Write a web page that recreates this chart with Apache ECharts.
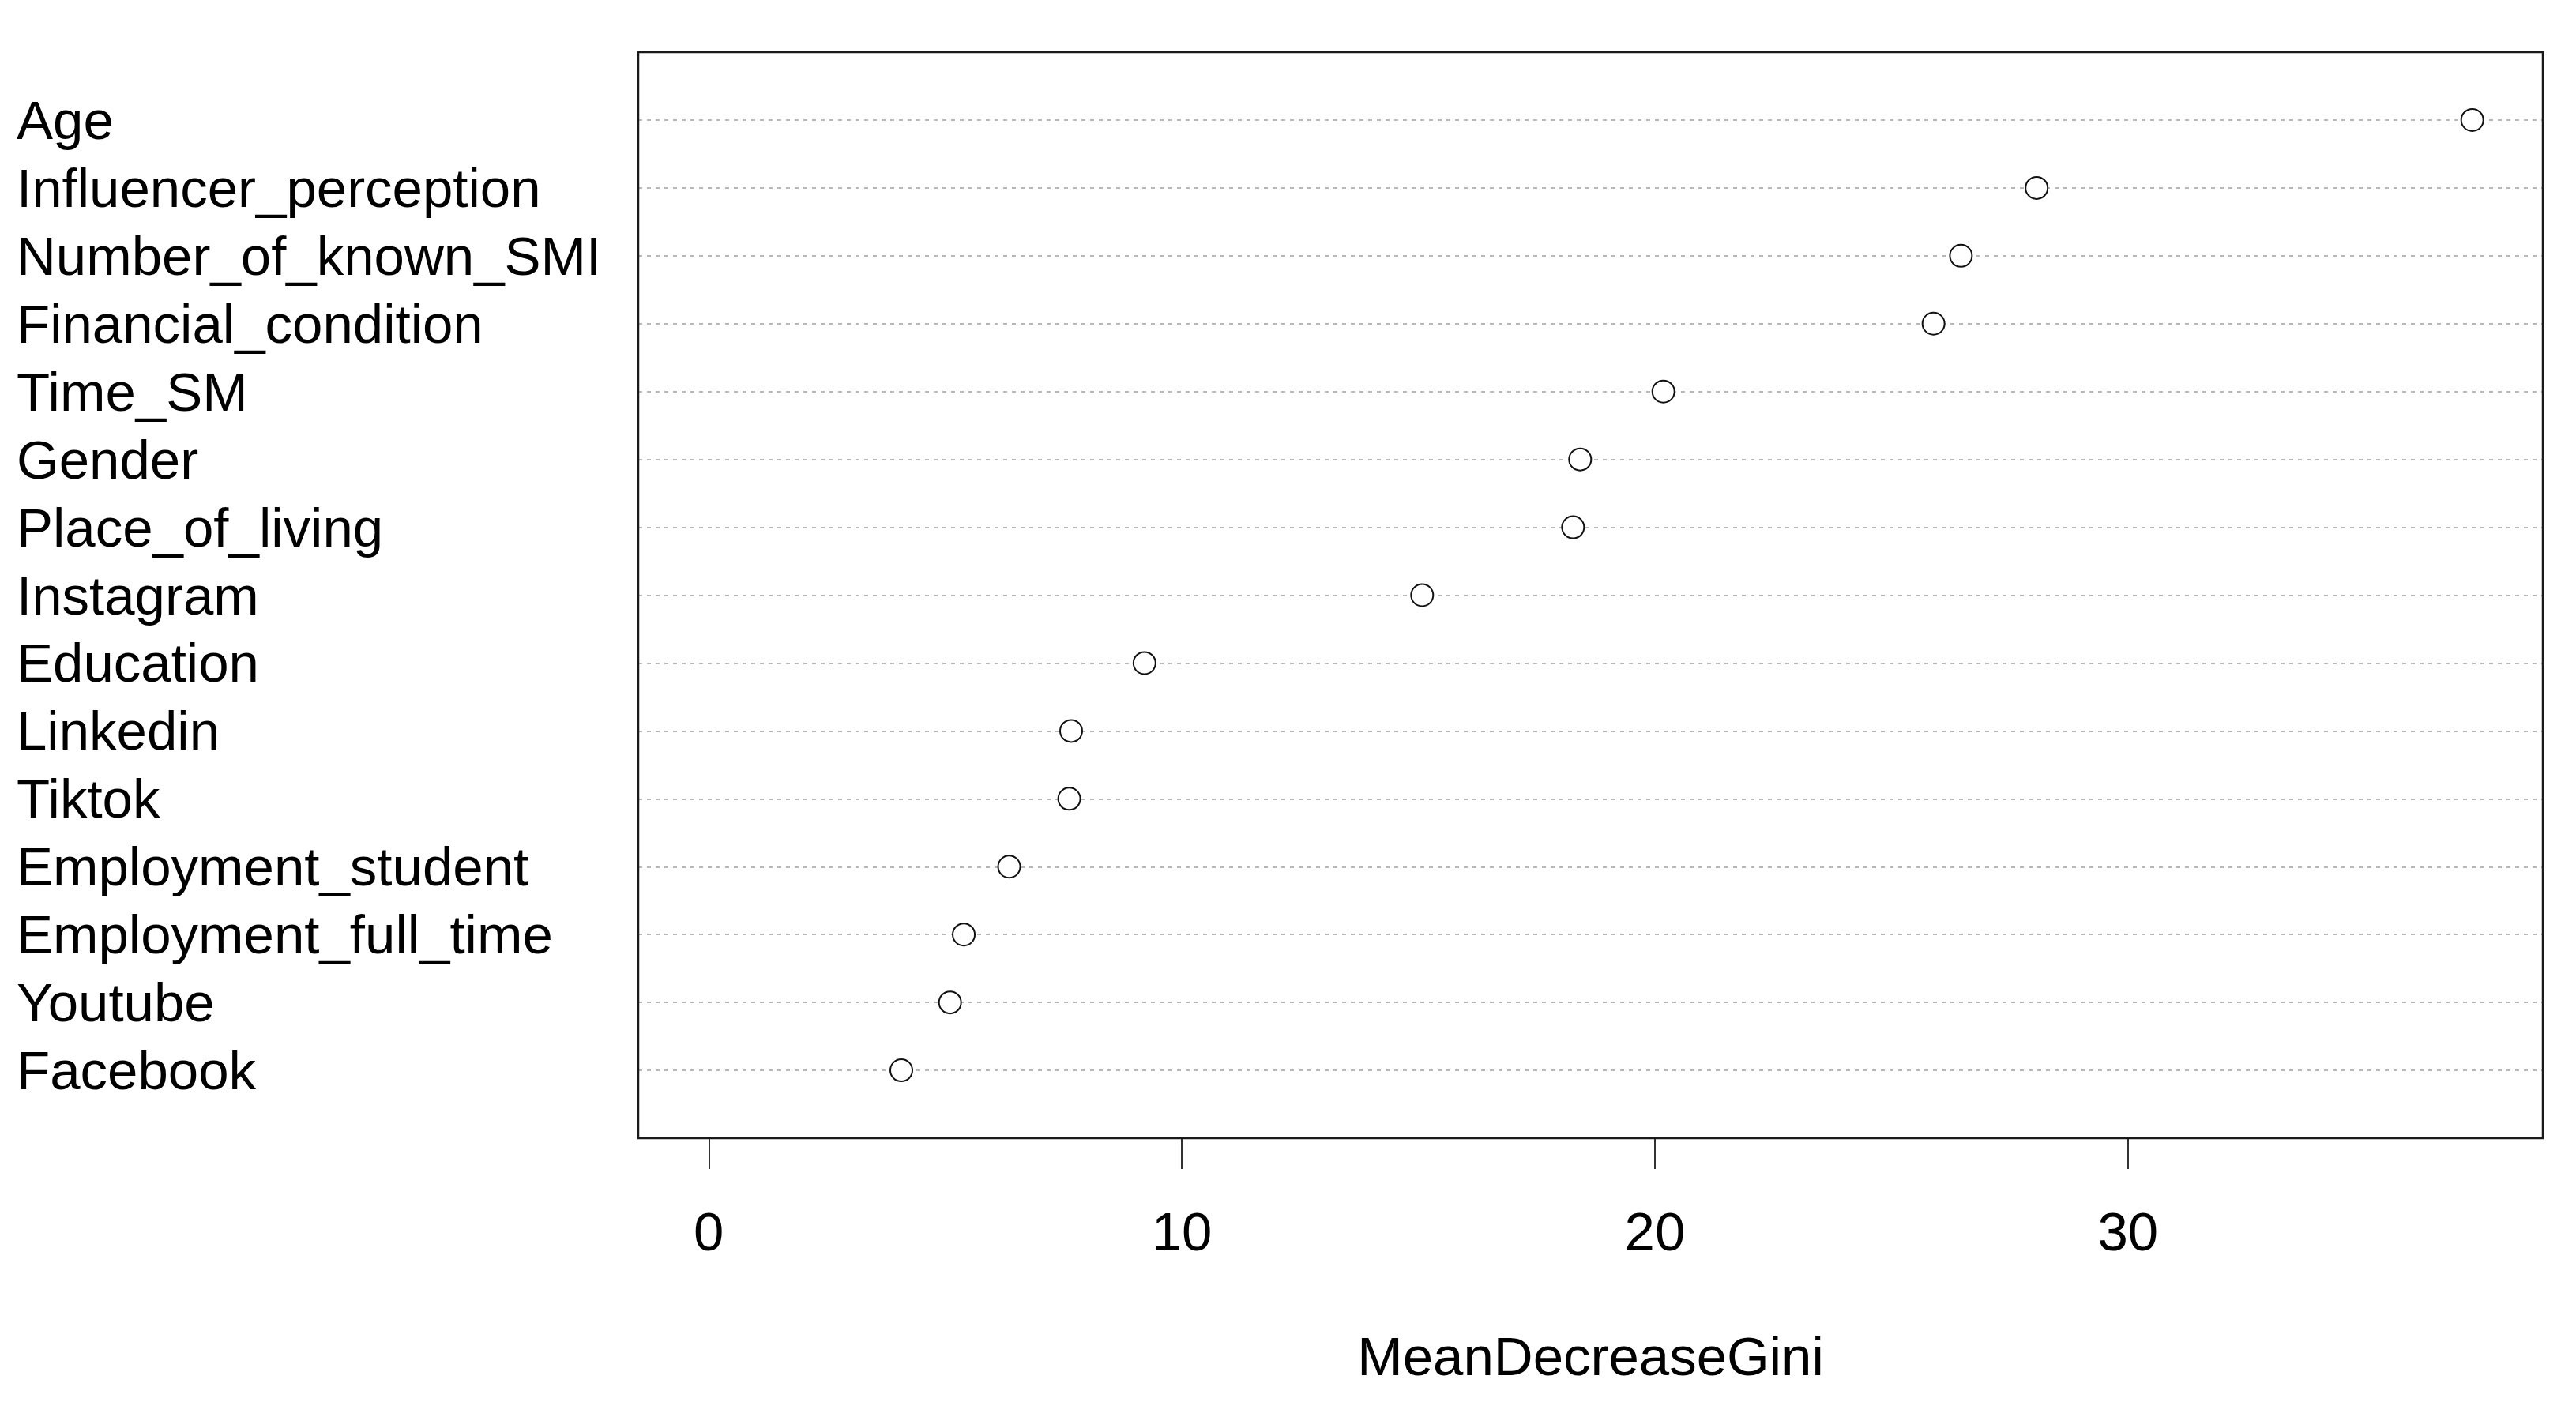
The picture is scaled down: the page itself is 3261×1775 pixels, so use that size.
<!DOCTYPE html>
<html>
<head>
<meta charset="utf-8">
<script src="https://cdn.jsdelivr.net/npm/echarts@6/dist/echarts.min.js"></script>
<style>
html,body{margin:0;padding:0;background:#fff;}
#chart{width:3261px;height:1775px;}
</style>
</head>
<body>
<div id="chart"></div>
<script>
// Variables, top to bottom as drawn
var categories = [
  "Age", "Influencer_perception", "Number_of_known_SMI", "Financial_condition",
  "Time_SM", "Gender", "Place_of_living", "Instagram", "Education", "Linkedin",
  "Tiktok", "Employment_student", "Employment_full_time", "Youtube", "Facebook"
];
var meanDecreaseGini = [
  37.28, 28.07, 26.47, 25.89, 20.18, 18.42, 18.27, 15.08, 9.21, 7.66,
  7.62, 6.35, 5.39, 5.10, 4.07
];
var xTickValues = [0, 10, 20, 30];
var xAxisTitle = "MeanDecreaseGini";

var FONT = "'Liberation Sans', Arial, sans-serif";
var chart = echarts.init(document.getElementById('chart'), null, {renderer: 'canvas'});

var maxVal = Math.max.apply(null, meanDecreaseGini);
var pad = 0.04 * maxVal;

chart.setOption({
  animation: false,
  backgroundColor: '#ffffff',
  grid: {
    left: 808, right: 42, top: 66, bottom: 334,
    show: true, borderColor: '#1a1a1a', borderWidth: 2.5,
    backgroundColor: 'transparent', z: 10
  },
  xAxis: {
    type: 'value',
    position: 'bottom',
    min: -pad, max: maxVal + pad,
    name: xAxisTitle,
    nameLocation: 'middle',
    nameGap: 246,
    nameTextStyle: {fontFamily: FONT, fontSize: 69, color: '#000'},
    axisLine: {show: false, onZero: false},
    splitLine: {show: false},
    axisTick: {
      show: true, length: 39, inside: false,
      customValues: xTickValues,
      lineStyle: {color: '#333', width: 2}
    },
    axisLabel: {
      show: true, customValues: xTickValues,
      margin: 88,
      fontFamily: FONT, fontSize: 69, color: '#000',
      formatter: function (v) { return String(Math.round(v)); }
    }
  },
  yAxis: {
    type: 'value',
    inverse: true,
    min: 0, max: categories.length + 1, interval: 1,
    axisLine: {show: false},
    axisTick: {show: false},
    splitLine: {
      show: true,
      lineStyle: {color: '#b8b8b8', width: 2, type: [5, 6]}
    },
    axisLabel: {
      show: true, align: 'left', margin: 787,
      verticalAlign: 'top', lineHeight: 10,
      fontFamily: FONT, fontSize: 69, color: '#000',
      showMinLabel: false, showMaxLabel: false,
      formatter: function (v) {
        var i = Math.round(v) - 1;
        return (i >= 0 && i < categories.length) ? categories[i] : '';
      }
    }
  },
  series: [{
    type: 'scatter',
    symbol: 'circle',
    symbolSize: 28,
    itemStyle: {color: '#ffffff', borderColor: '#111', borderWidth: 2, opacity: 1},
    data: meanDecreaseGini.map(function (v, i) { return [v, i + 1]; }),
    z: 5
  }]
});
</script>
</body>
</html>
